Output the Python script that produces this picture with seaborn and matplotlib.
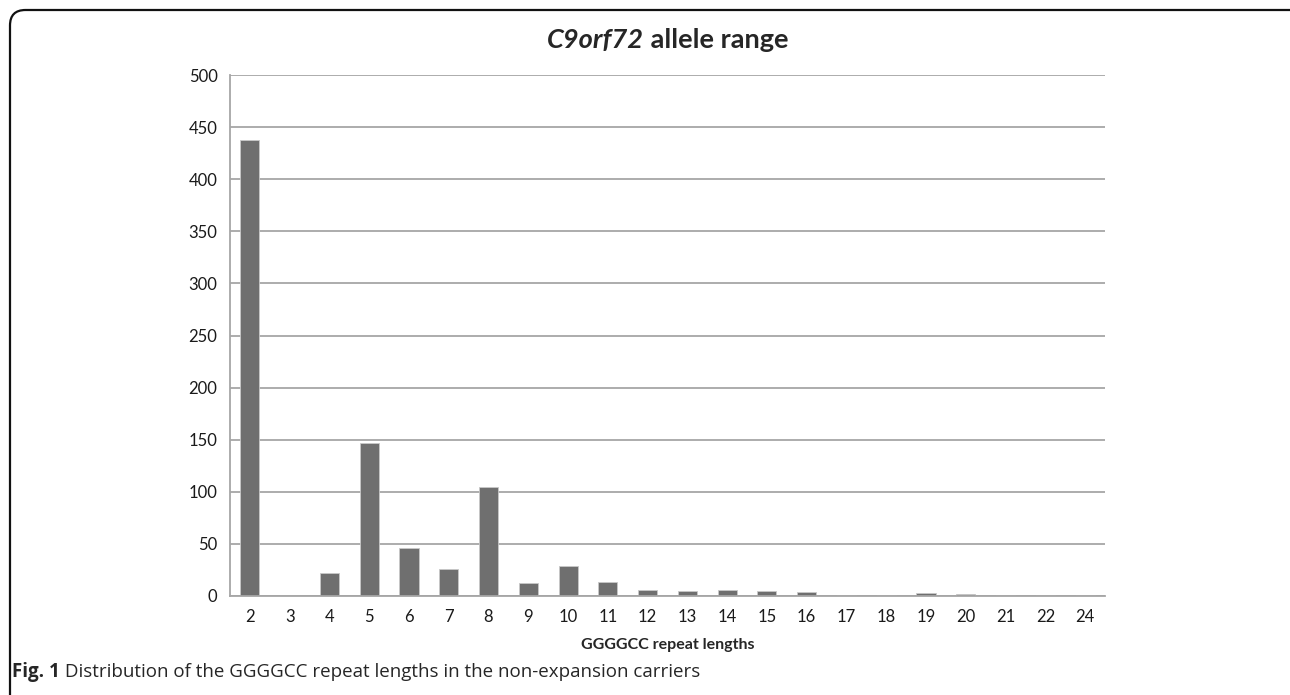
import matplotlib
matplotlib.use("Agg")
import matplotlib.pyplot as plt
from matplotlib.patches import FancyBboxPatch
import seaborn as sns
import pandas as pd

# Repeat lengths and allele counts
repeat_lengths = ["2", "3", "4", "5", "6", "7", "8", "9", "10", "11", "12",
                  "13", "14", "15", "16", "17", "18", "19", "20", "21", "22", "24"]
allele_counts = [438, 1, 22, 147, 46, 26, 105, 12, 29, 13, 6,
                 5, 6, 5, 4, 1, 1, 3, 2, 1, 1, 1]
y_ticks = [0, 50, 100, 150, 200, 250, 300, 350, 400, 450, 500]

title_italic = "C9orf72"
title_rest = " allele range"
x_label = "GGGGCC repeat lengths"
caption_bold = "Fig. 1"
caption_rest = " Distribution of the GGGGCC repeat lengths in the non-expansion carriers"


def main():
    sns.set_style("white")
    plt.rcParams["font.family"] = ["Lato", "DejaVu Sans"]

    df = pd.DataFrame({"length": repeat_lengths, "count": allele_counts})

    fig = plt.figure(figsize=(12.9, 6.95), dpi=100)
    ax = fig.add_axes([230 / 1290, 99 / 695, 875 / 1290, 521 / 695])

    sns.barplot(data=df, x="length", y="count", order=repeat_lengths,
                color="#6f6f6f", saturation=1, width=0.48,
                edgecolor="#c8c8c8", linewidth=0.6, ax=ax)

    ax.set_ylim(0, 500)
    ax.set_xlim(-0.5, len(repeat_lengths) - 0.5)
    ax.set_yticks(y_ticks)
    ax.yaxis.grid(True, color="#a6a6a6", linewidth=1.3)
    ax.set_axisbelow(True)
    for side in ["top", "right"]:
        ax.spines[side].set_visible(False)
    for side in ["left", "bottom"]:
        ax.spines[side].set_color("#a6a6a6")
        ax.spines[side].set_linewidth(1.3)
    ax.tick_params(axis="both", length=0, labelsize=12, colors="#1a1a1a")
    ax.tick_params(axis="x", pad=9)
    ax.tick_params(axis="y", pad=9)
    ax.set_ylabel("")
    ax.set_xlabel(x_label, fontsize=11.5, fontweight="bold", labelpad=10)

    # rounded frame around the panel, bottom and right edges run off the image
    frame = FancyBboxPatch((10 / 1290, -0.2), 1300 / 1290, (685 / 695) + 0.2,
                           boxstyle="round,pad=0,rounding_size=0.012",
                           transform=fig.transFigure, fill=False,
                           edgecolor="#111111", linewidth=1.6, clip_on=False,
                           mutation_aspect=1290 / 695)
    fig.patches.append(frame)

    # title with italic gene name, centred over the plot
    fig.canvas.draw()
    renderer = fig.canvas.get_renderer()
    t1 = fig.text(0, 0, title_italic, fontsize=19.5, fontweight="bold", style="italic")
    t2 = fig.text(0, 0, title_rest, fontsize=19.5, fontweight="bold")
    w1 = t1.get_window_extent(renderer).width
    w2 = t2.get_window_extent(renderer).width
    cx = 668
    start = cx - (w1 + w2) / 2
    t1.set_position((start / 1290, 1 - 48 / 695))
    t2.set_position(((start + w1) / 1290, 1 - 48 / 695))

    # caption below the panel
    c1 = fig.text(12 / 1290, 1 - 677 / 695, caption_bold, fontsize=13.5,
                  fontweight="bold", family=["Open Sans", "DejaVu Sans"])
    wc = c1.get_window_extent(renderer).width
    fig.text((12 + wc) / 1290, 1 - 677 / 695, caption_rest, fontsize=13.5,
             family=["Open Sans", "DejaVu Sans"])

    fig.savefig("out.png", dpi=100)


if __name__ == "__main__":
    main()
